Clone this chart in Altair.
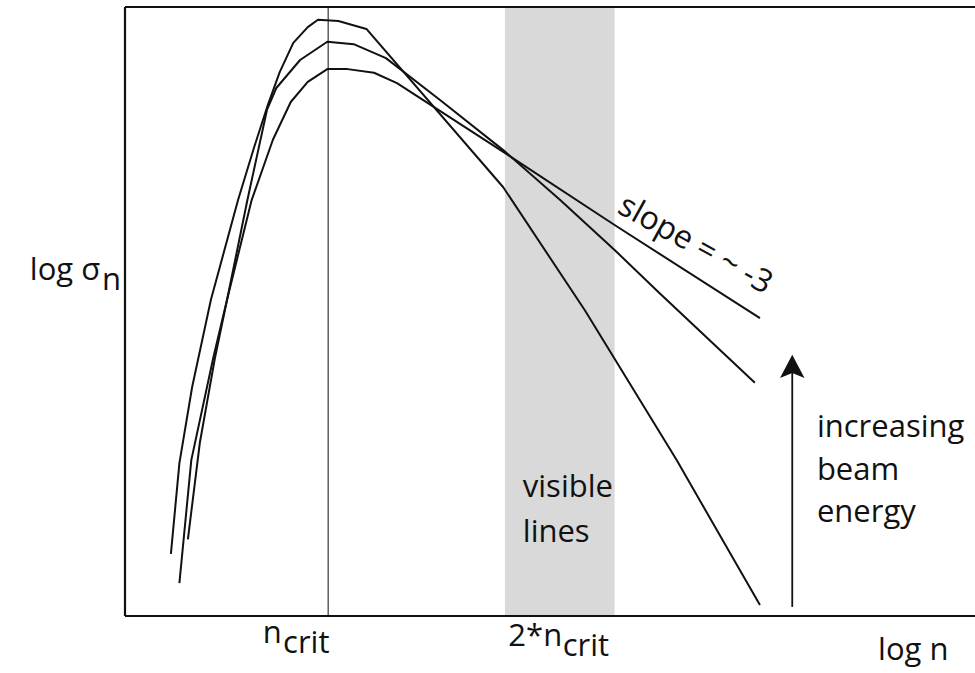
import altair as alt
import pandas as pd

# Three cross-section curves (log n, log sigma_n) for increasing beam energy
curve_a_x = [0.54, 0.64, 0.79, 1.01, 1.33, 1.52, 1.68, 1.82, 1.98, 2.15, 2.27, 2.51, 2.84, 4.45, 5.41, 6.49, 7.47]
curve_a_y = [1.02, 2.51, 3.76, 5.19, 6.83, 7.70, 8.39, 8.93, 9.41, 9.67, 9.79, 9.77, 9.64, 7.04, 5.02, 2.56, 0.18]

curve_b_x = [0.64, 0.78, 1.04, 1.20, 1.44, 1.67, 1.78, 2.06, 2.38, 2.69, 3.07, 3.71, 4.45, 5.12, 5.76, 6.29, 7.41]
curve_b_y = [0.54, 2.56, 4.25, 5.19, 6.83, 8.31, 8.67, 9.13, 9.43, 9.39, 9.16, 8.47, 7.65, 6.83, 6.01, 5.30, 3.83]

curve_c_x = [0.74, 0.88, 1.06, 1.20, 1.49, 1.74, 1.95, 2.15, 2.38, 2.62, 2.93, 3.20, 4.45, 5.76, 7.47]
curve_c_y = [1.26, 2.84, 4.25, 5.19, 6.83, 7.82, 8.44, 8.77, 8.98, 8.98, 8.92, 8.75, 7.62, 6.42, 4.89]

# Key positions on the log n axis
n_crit = 2.39
visible_band = [4.47, 5.76]

# Axis extents
x_min, x_max = 0.0, 10.0
y_min, y_max = 0.0, 10.0

# Arrow for "increasing beam energy"
arrow_x = 7.85
arrow_y = [0.15, 4.0]
arrow_head_y = 4.09

FONT = "Open Sans"
FS = 31
INK = "#111111"

rows = []
for name, xs, ys in [("a", curve_a_x, curve_a_y), ("b", curve_b_x, curve_b_y), ("c", curve_c_x, curve_c_y)]:
    for i, (x, y) in enumerate(zip(xs, ys)):
        rows.append({"curve": name, "i": i, "x": x, "y": y})
curves_df = pd.DataFrame(rows)

xs = alt.Scale(domain=[x_min, x_max], nice=False, zero=False)
ys = alt.Scale(domain=[y_min, y_max], nice=False, zero=False)

def X(field, **kw):
    return alt.X(field, type="quantitative", scale=xs, axis=None, **kw)

def Y(field, **kw):
    return alt.Y(field, type="quantitative", scale=ys, axis=None, **kw)

band = alt.Chart(pd.DataFrame({"x": [visible_band[0]], "x2": [visible_band[1]], "y": [y_min], "y2": [y_max]})).mark_rect(
    color="#d9d9d9"
).encode(x=X("x"), x2="x2", y=Y("y"), y2="y2")

crit_rule = alt.Chart(pd.DataFrame({"x": [n_crit], "y": [y_min], "y2": [y_max]})).mark_rule(
    color=INK, strokeWidth=1
).encode(x=X("x"), y=Y("y"), y2="y2")

curves = alt.Chart(curves_df).mark_line(color=INK, strokeWidth=2, strokeJoin="round").encode(
    x=X("x"), y=Y("y"), detail="curve:N", order="i:Q"
)

# Frame: left, top and bottom edges
frame_df = pd.DataFrame({
    "x": [x_min, x_min, x_min],
    "x2": [x_min, x_max, x_max],
    "y": [y_min, y_max, y_min],
    "y2": [y_max, y_max, y_min],
})
frame = alt.Chart(frame_df).mark_rule(color=INK, strokeWidth=2.2).encode(
    x=X("x"), x2="x2", y=Y("y"), y2="y2"
)

arrow_line = alt.Chart(pd.DataFrame({"x": [arrow_x], "y": [arrow_y[0]], "y2": [arrow_y[1]]})).mark_rule(
    color=INK, strokeWidth=1.8
).encode(x=X("x"), y=Y("y"), y2="y2")

arrow_head = alt.Chart(pd.DataFrame({"x": [arrow_x], "y": [arrow_head_y]})).mark_point(
    shape="M0,-1L1,0.9L0,0.5L-1,0.9Z", filled=True, color=INK, size=600, opacity=1
).encode(x=X("x"), y=Y("y"))

# Labels
label_text = ["log σ", "n", "n", "crit", "2*n", "crit", "log n", "visible", "lines", "increasing", "beam", "energy"]
label_x = [-1.12, -0.27, 1.62, 1.86, 4.51, 5.15, 8.86, 4.68, 4.68, 8.14, 8.14, 8.14]
label_y = [5.52, 5.35, -0.44, -0.60, -0.50, -0.66, -0.72, 1.95, 1.22, 2.94, 2.24, 1.54]
labels_df = pd.DataFrame({"t": label_text, "x": label_x, "y": label_y})

labels = alt.Chart(labels_df).mark_text(
    align="left", baseline="alphabetic", font=FONT, fontSize=FS, color=INK
).encode(x=X("x"), y=Y("y"), text="t:N")

slope_df = pd.DataFrame({"t": ["slope = ~ -3"], "x": [6.71], "y": [6.10]})
slope_label = alt.Chart(slope_df).mark_text(
    align="center", baseline="middle", font=FONT, fontSize=32, color=INK, angle=29
).encode(x=X("x"), y=Y("y"), text="t:N")

chart = alt.layer(
    band, crit_rule, curves, frame, arrow_line, arrow_head, labels, slope_label
).properties(
    width=850,
    height=609,
    padding={"left": 125, "top": 7, "right": 0, "bottom": 57},
    autosize=alt.AutoSizeParams(type="none"),
    background="white",
).configure_view(stroke=None)

chart.save("out.html", embed_options={"renderer": "svg", "actions": False})
